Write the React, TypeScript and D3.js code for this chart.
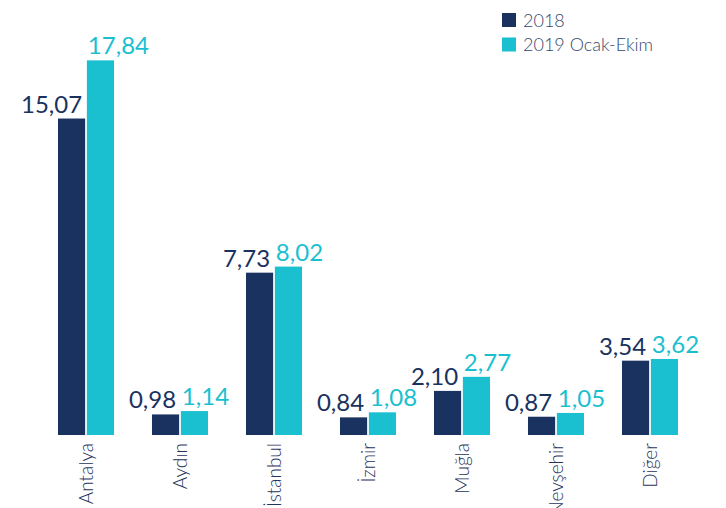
import React from "react";
import * as d3 from "d3";

const cities = ["Antalya", "Aydın", "İstanbul", "İzmir", "Muğla", "Nevşehir", "Diğer"];
const series = ["2018", "2019 Ocak-Ekim"];
const values2018 = [15.07, 0.98, 7.73, 0.84, 2.1, 0.87, 3.54];
const values2019 = [17.84, 1.14, 8.02, 1.08, 2.77, 1.05, 3.62];

const colors = ["#19325f", "#1abfd0"];
const fmt = (v: number) => v.toFixed(2).replace(".", ",");

const width = 726;
const height = 508;
const baseY = 435;

const App = () => {
  const x = d3
    .scaleBand()
    .domain(cities)
    .range([39, 697])
    .paddingInner(0.404)
    .paddingOuter(0.202);

  const xs = d3
    .scaleBand()
    .domain(series)
    .range([0, x.bandwidth()])
    .paddingInner(0.06);

  const y = d3.scaleLinear().domain([0, 20]).range([baseY, 15]);

  const rows = cities.map((c, i) => ({ city: c, vals: [values2018[i], values2019[i]] }));

  return (
    <svg
      width={width}
      height={height}
      style={{ position: "absolute", left: 0, top: 0, fontFamily: "Lato, 'Open Sans', sans-serif" }}
    >
      <rect width={width} height={height} fill="#fff" />

      {/* bars + value labels */}
      {rows.map((r) => (
        <g key={r.city} transform={`translate(${x(r.city)},0)`}>
          {r.vals.map((v, j) => {
            const bx = xs(series[j])!;
            const bw = xs.bandwidth();
            return (
              <g key={j}>
                <rect x={bx} y={y(v)} width={bw} height={baseY - y(v)} fill={colors[j]} />
                <text
                  x={j === 0 ? bx + bw - 3 : bx + 1}
                  y={y(v) - 6}
                  textAnchor={j === 0 ? "end" : "start"}
                  fontSize={24}
                  fill={colors[j]}
                >
                  {fmt(v)}
                </text>
              </g>
            );
          })}
        </g>
      ))}

      {/* category labels */}
      {cities.map((c) => (
        <text
          key={c}
          transform={`translate(${x(c)! + x.bandwidth() / 2 + 7},${baseY + 8}) rotate(-90)`}
          textAnchor="end"
          fontSize={19}
          fontWeight={300}
          fill="#1f3560"
        >
          {c}
        </text>
      ))}

      {/* legend */}
      {series.map((s, i) => (
        <g key={s} transform={`translate(502,${13 + i * 24.5})`}>
          <rect width={14} height={14} fill={colors[i]} />
          <text x={21} y={13.5} fontSize={18} fontWeight={300} fill="#34496e">
            {s}
          </text>
        </g>
      ))}
    </svg>
  );
};

export default App;
